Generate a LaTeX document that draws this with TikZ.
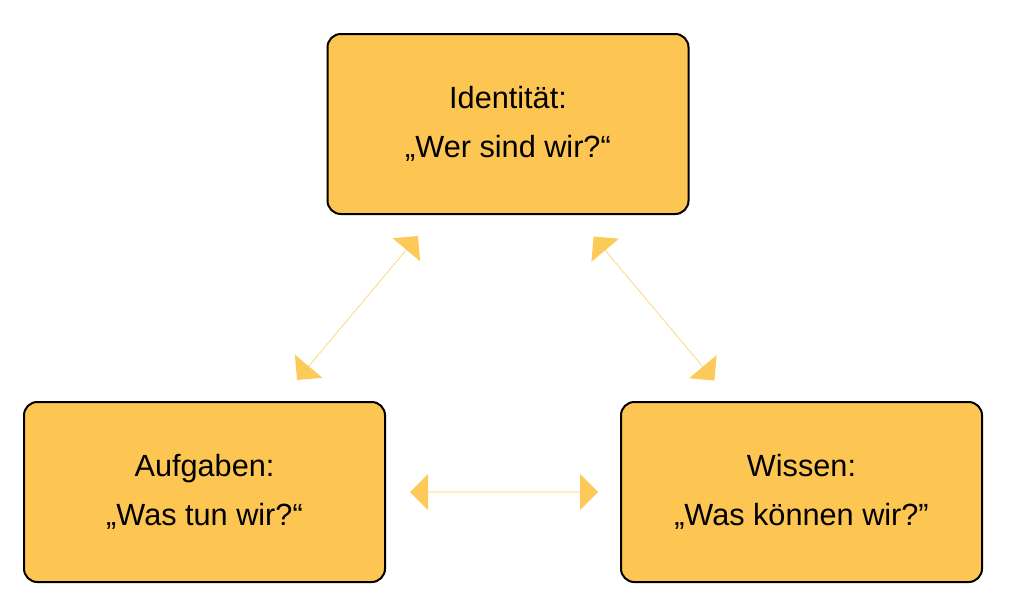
\documentclass[tikz,border=0pt]{standalone}
\usepackage{fontspec}
\setmainfont{Liberation Sans}
\usetikzlibrary{shapes.arrows}
\definecolor{boxc}{HTML}{FDC652}
\definecolor{arrc}{HTML}{FCCA58}
\begin{document}
\begin{tikzpicture}[x=0.75pt,y=-0.75pt,
  box/.style={draw=black,line width=1.5pt,fill=boxc,rounded corners=10pt,minimum width=361*0.75pt,minimum height=180*0.75pt,align=center,font=\fontsize{23}{37}\selectfont,inner sep=0pt},
  fat/.style={double arrow,fill=arrc,draw=none,minimum width=36*0.75pt,minimum height=188*0.75pt,double arrow head extend=17*0.75pt,double arrow tip angle=90,inner sep=0pt}]
\useasboundingbox (0,0) rectangle (1010,614);
\node[box] (id) at (508,124) {Identität:\\„Wer sind wir?“};
\node[box] (auf) at (204.5,492) {Aufgaben:\\„Was tun wir?“};
\node[box] (wis) at (801.5,492) {Wissen:\\„Was können wir?"};
\node[fat] (a1) at (504,492) {};
\node[fat,rotate=50] (a2) at (357.5,308) {};
\node[fat,rotate=-50] (a3) at (654,308.5) {};
\end{tikzpicture}
\end{document}
